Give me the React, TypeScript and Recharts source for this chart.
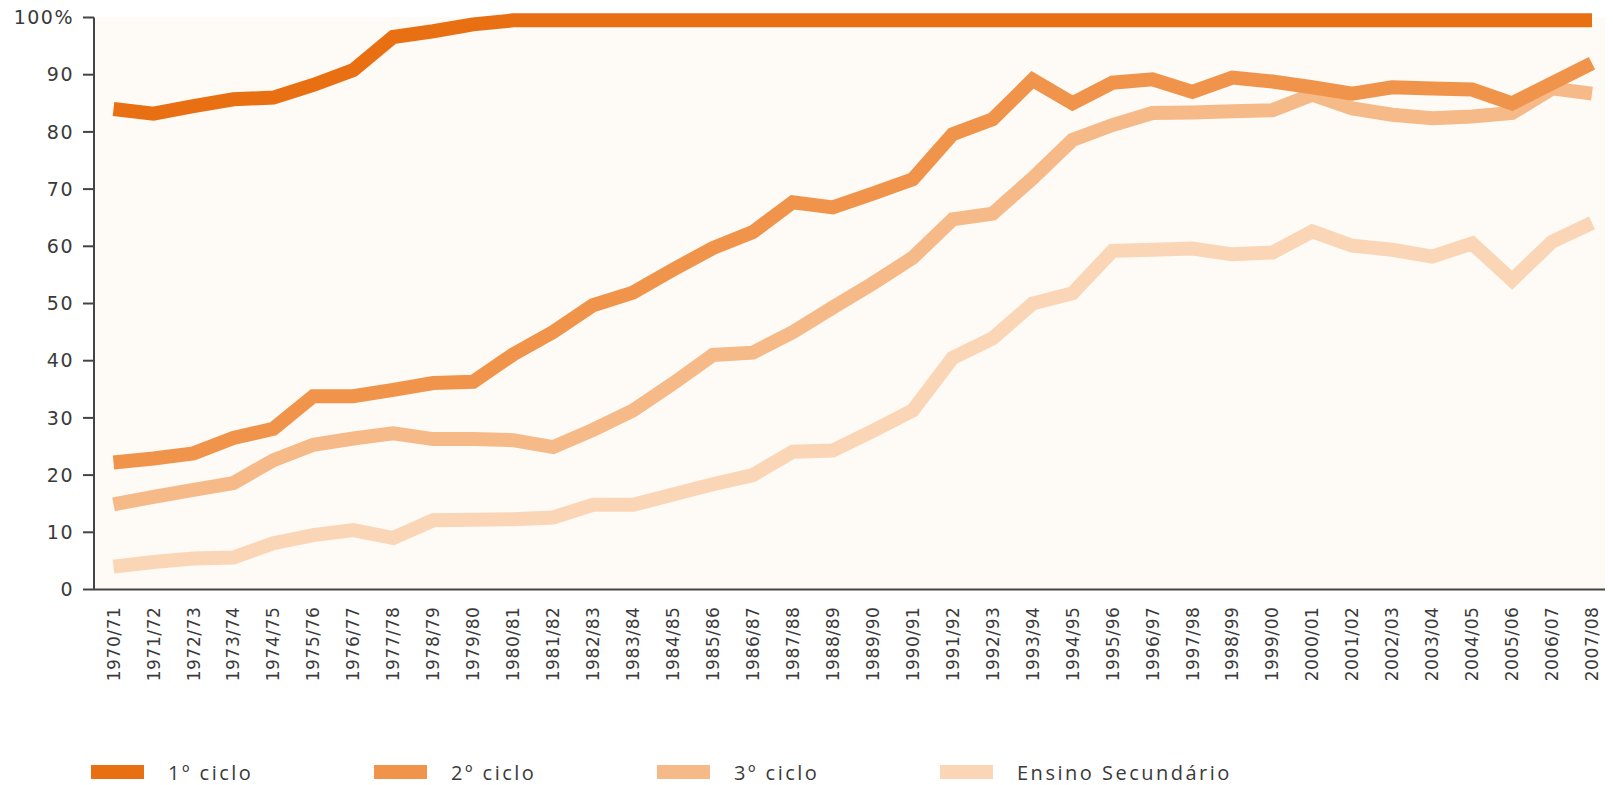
import { LineChart, Line, XAxis, YAxis, CartesianGrid } from 'recharts';

const anos = [
  '1970/71', '1971/72', '1972/73', '1973/74', '1974/75', '1975/76', '1976/77', '1977/78',
  '1978/79', '1979/80', '1980/81', '1981/82', '1982/83', '1983/84', '1984/85', '1985/86',
  '1986/87', '1987/88', '1988/89', '1989/90', '1990/91', '1991/92', '1992/93', '1993/94',
  '1994/95', '1995/96', '1996/97', '1997/98', '1998/99', '1999/00', '2000/01', '2001/02',
  '2002/03', '2003/04', '2004/05', '2005/06', '2006/07', '2007/08',
];

const ciclo1 = [
  84, 83.2, 84.5, 85.7, 86, 88.2, 90.8, 96.6, 97.6, 98.8,
  99.5, 99.5, 99.5, 99.5, 99.5, 99.5, 99.5, 99.5, 99.5, 99.5,
  99.5, 99.5, 99.5, 99.5, 99.5, 99.5, 99.5, 99.5, 99.5, 99.5,
  99.5, 99.5, 99.5, 99.5, 99.5, 99.5, 99.5, 99.5,
];

const ciclo2 = [
  22.2, 22.9, 23.8, 26.5, 28.1, 33.8, 33.8, 34.9, 36.1, 36.3,
  41.1, 45, 49.7, 51.9, 55.9, 59.7, 62.5, 67.7, 66.8, 69.2,
  71.7, 79.6, 82.2, 89.1, 85, 88.6, 89.2, 87, 89.5, 88.8,
  87.8, 86.7, 87.8, 87.6, 87.4, 85, 88.5, 92,
];

const ciclo3 = [
  14.9, 16.2, 17.4, 18.6, 22.6, 25.3, 26.4, 27.3, 26.3, 26.3,
  26.1, 24.9, 27.9, 31.3, 36, 41, 41.4, 45, 49.3, 53.5,
  58, 64.7, 65.7, 71.9, 78.6, 81.2, 83.3, 83.4, 83.6, 83.8,
  86.5, 84.1, 83, 82.4, 82.7, 83.3, 87.6, 86.7,
];

const secundario = [
  4, 4.8, 5.4, 5.6, 8.1, 9.5, 10.4, 9, 12.1, 12.2,
  12.3, 12.6, 14.8, 14.8, 16.6, 18.4, 20, 24.1, 24.3, 27.7,
  31.3, 40.5, 43.9, 50, 51.8, 59.2, 59.4, 59.6, 58.6, 58.9,
  62.6, 60.1, 59.4, 58.2, 60.5, 54.1, 60.8, 64.1,
];

const yTicks = [0, 10, 20, 30, 40, 50, 60, 70, 80, 90, 100];

const series = [
  { key: 'c1', name: '1º ciclo', color: '#E96F13', values: ciclo1 },
  { key: 'c2', name: '2º ciclo', color: '#F0944B', values: ciclo2 },
  { key: 'c3', name: '3º ciclo', color: '#F6BA89', values: ciclo3 },
  { key: 'sec', name: 'Ensino Secundário', color: '#FAD6B6', values: secundario },
];

const data = anos.map((ano, i) => {
  const row: any = { ano };
  series.forEach(s => { row[s.key] = s.values[i]; });
  return row;
});

const axisColor = '#444';
const textColor = '#3a3a3a';
const font = '"DejaVu Sans", Verdana, sans-serif';

// rotated year labels under the x axis
const YearTick = (props: any) => {
  const { x, y, payload } = props;
  return (
    <text
      x={x}
      y={y}
      transform={`rotate(-90 ${x} ${y})`}
      textAnchor="end"
      dy="0.36em"
      fill={textColor}
      fontSize={17}
      fontFamily={font}
      letterSpacing={0.6}
    >
      {payload.value}
    </text>
  );
};

export default function App() {
  return (
    <div style={{ position: 'absolute', left: 0, top: 0, width: 1613, height: 785, background: '#fff' }}>
      <LineChart
        width={1613}
        height={690}
        data={data}
        margin={{ top: 17.5, right: 8, left: 14, bottom: 0.5 }}
      >
        <CartesianGrid horizontal={false} vertical={false} fill="#FEFAF6" />
        <XAxis
          dataKey="ano"
          interval={0}
          height={100}
          padding={{ left: 19.5, right: 13 }}
          tickLine={false}
          tickSize={8}
          tickMargin={9}
          stroke={axisColor}
          strokeWidth={2}
          tick={<YearTick />}
        />
        <YAxis
          width={80}
          domain={[0, 100]}
          ticks={yTicks}
          interval={0}
          tickSize={11}
          tickMargin={9}
          stroke={axisColor}
          strokeWidth={2}
          tickFormatter={(v: number) => (v === 100 ? '100%' : String(v))}
          tick={{ fill: textColor, fontSize: 19, fontFamily: font, letterSpacing: 1.5 }}
        />
        {[...series].reverse().map(s => (
          <Line
            key={s.key}
            type="linear"
            dataKey={s.key}
            name={s.name}
            stroke={s.color}
            strokeWidth={14}
            strokeLinejoin="miter"
            strokeLinecap="butt"
            dot={false}
            activeDot={false}
            isAnimationActive={false}
          />
        ))}
      </LineChart>

      {/* legend */}
      {series.map((s, i) => (
        <div
          key={s.key}
          style={{
            position: 'absolute',
            left: 91 + i * 283,
            top: 762,
            display: 'flex',
            alignItems: 'center',
            height: 20,
          }}
        >
          <div style={{ width: 53, height: 14, background: s.color }} />
          <span
            style={{
              marginLeft: 24,
              fontFamily: '"Open Sans", sans-serif',
              fontSize: 20,
              letterSpacing: 2.5,
              color: textColor,
              whiteSpace: 'nowrap',
            }}
          >
            {s.name}
          </span>
        </div>
      ))}
    </div>
  );
}
